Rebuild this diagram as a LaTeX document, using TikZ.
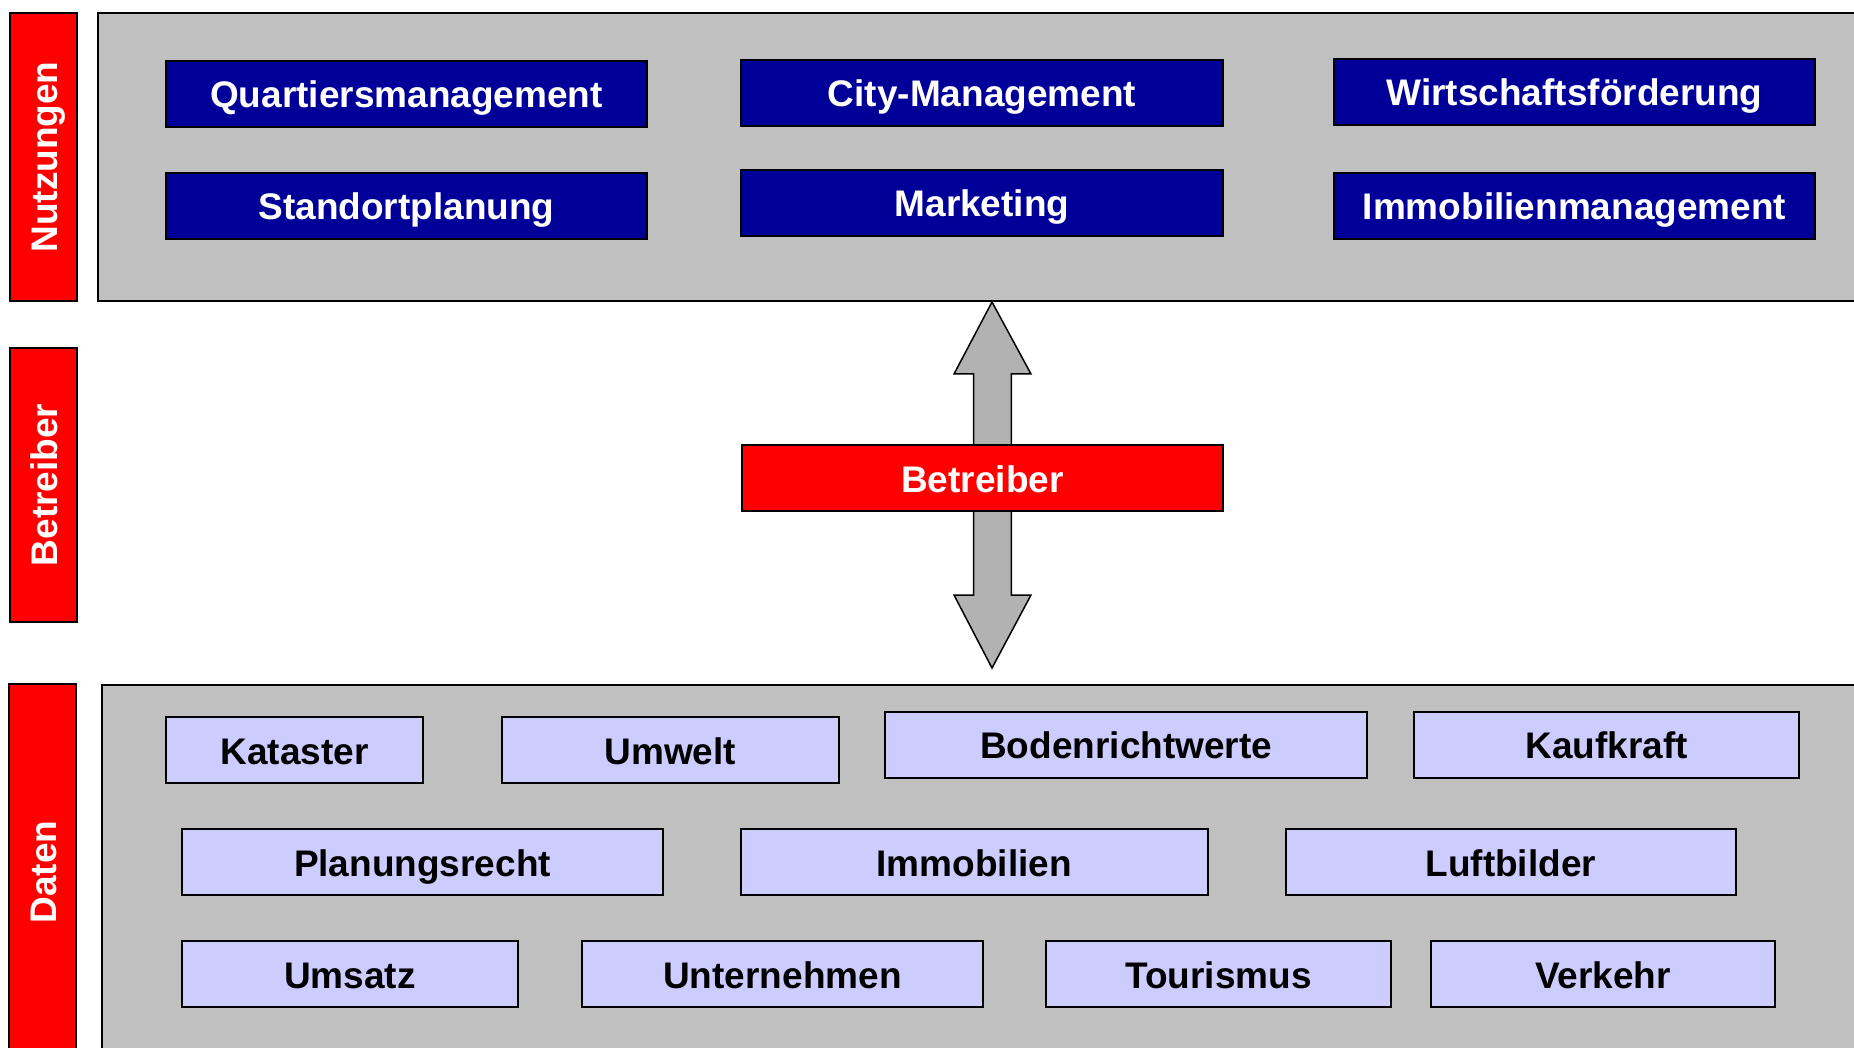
\documentclass[tikz,border=0pt]{standalone}
\usepackage{fontspec}
\setmainfont{Liberation Sans}
\usetikzlibrary{calc}
\definecolor{panelgray}{HTML}{C0C0C0}
\definecolor{arrowgray}{HTML}{B2B2B2}
\definecolor{darkblue}{HTML}{000099}
\definecolor{lavender}{HTML}{CCCCFF}
\definecolor{barred}{HTML}{FF0000}
\tikzset{
  base/.style={draw=black, line width=1pt, inner sep=0pt, outer sep=0pt, font=\fontsize{18.5}{22}\selectfont\bfseries, align=center, text height=14pt, text depth=0pt},
  panel/.style={base, fill=panelgray},
  sidebar/.style={base, fill=barred, text=white, rotate=90},
  usebox/.style={base, fill=darkblue, text=white, minimum height=33pt},
  opbox/.style={base, fill=barred, text=white, minimum height=33pt},
  databox/.style={base, fill=lavender, text=black, minimum height=33pt},
  bigarrow/.style={draw=black, line width=0.75pt, fill=arrowgray, line join=miter}
}
\begin{document}
\begin{tikzpicture}[x=0.5pt, y=-0.5pt]
\path[use as bounding box] (0,0) rectangle (1854,1048);
\clip (0,0) rectangle (1854,1048);
% panels
\node[panel, anchor=north west, minimum width=886pt, minimum height=144pt] (toppanel) at (98,13) {};
\node[panel, anchor=north west, minimum width=884pt, minimum height=190pt] (botpanel) at (102,685) {};
% side bars
\node[sidebar, minimum width=144pt, minimum height=33.75pt] (nbar) at (43.25,157) {Nutzungen};
\node[sidebar, minimum width=137pt, minimum height=33.5pt] (bbar) at (43.5,485) {Betreiber};
\node[sidebar, minimum width=188pt, minimum height=33.5pt] (dbar) at (42.5,872) {Daten};
% top boxes
\node[usebox, minimum width=240.5pt] (quart) at (406.5,94) {Quartiersmanagement};
\node[usebox, minimum width=240.5pt] (stand) at (406.5,206) {Standortplanung};
\node[usebox, minimum width=241pt] (city) at (982,93) {City-Management};
\node[usebox, minimum width=241pt] (mark) at (982,203) {Marketing};
\node[usebox, minimum width=240.5pt] (wirt) at (1574.5,92) {Wirtschaftsförderung};
\node[usebox, minimum width=240.5pt] (immo) at (1574.5,206) {Immobilienmanagement};
% arrow
\coordinate (atop) at (992,302);
\coordinate (abot) at (992,668);
\draw[bigarrow] (atop) -- ($(atop)+(39,72)$) -- ($(atop)+(19.4,72)$) -- ($(abot)+(19.4,-73)$) -- ($(abot)+(39,-73)$) -- (abot)
  -- ($(abot)+(-38,-73)$) -- ($(abot)+(-18.4,-73)$) -- ($(atop)+(-18.4,72)$) -- ($(atop)+(-38,72)$) -- cycle;
% operator
\node[opbox, minimum width=240.5pt] (betr) at (982.5,478) {Betreiber};
% data boxes
\node[databox, minimum width=128.5pt] (kat) at (294.5,750) {Kataster};
\node[databox, minimum width=168.35pt] (umw) at (670.3,750) {Umwelt};
\node[databox, minimum width=240.8pt] (bod) at (1126.2,744.7) {Bodenrichtwerte};
\node[databox, minimum width=192.5pt] (kauf) at (1606.5,744.7) {Kaufkraft};
\node[databox, minimum width=240.5pt] (plan) at (422.5,862) {Planungsrecht};
\node[databox, minimum width=233.25pt] (immob) at (974.3,862) {Immobilien};
\node[databox, minimum width=224.85pt] (luft) at (1510.8,862) {Luftbilder};
\node[databox, minimum width=168pt] (ums) at (350,974) {Umsatz};
\node[databox, minimum width=200.5pt] (unt) at (782.5,974) {Unternehmen};
\node[databox, minimum width=172.2pt] (tour) at (1218.6,974) {Tourismus};
\node[databox, minimum width=172.15pt] (verk) at (1602.9,974) {Verkehr};
\end{tikzpicture}
\end{document}
